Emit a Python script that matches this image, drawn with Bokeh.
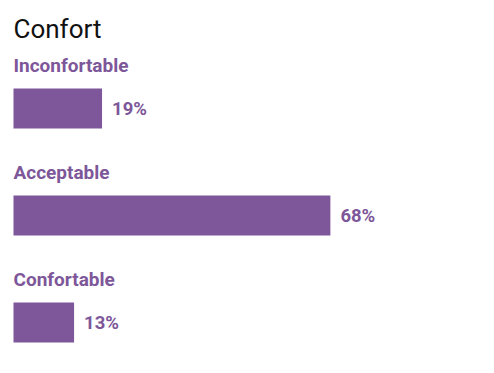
from bokeh.plotting import figure
from bokeh.models import Range1d, ColumnDataSource
from bokeh.core.properties import value
from bokeh.embed import file_html
from bokeh.resources import INLINE

# ---- data ----
title_text = "Confort"
categories = ["Inconfortable", "Acceptable", "Confortable"]
percents = [19, 68, 13]
value_labels = [f"{v}%" for v in percents]

# ---- layout (pixels) ----
W, H = 478, 357
PX_PER_UNIT = 4.66
LEFT_PAD = 13
FIRST_BAR_CENTER = 108
ROW_STEP = 107
BAR_H = 40
LABEL_ABOVE = 43
TITLE_BASELINE = 28

COLOR = "#7D5799"
FONT = "Roboto"

x0 = -LEFT_PAD / PX_PER_UNIT
p = figure(width=W, height=H, output_backend="svg", toolbar_location=None,
           min_border=0, x_range=Range1d(x0, x0 + W / PX_PER_UNIT),
           y_range=Range1d(H, 0))
p.axis.visible = False
p.xgrid.visible = False
p.ygrid.visible = False
p.outline_line_color = None
p.background_fill_color = "white"
p.border_fill_color = "white"

centers = [FIRST_BAR_CENTER + i * ROW_STEP for i in range(len(categories))]
src = ColumnDataSource(dict(
    cat=categories, pct=percents, lab=value_labels, y=centers,
    ylab=[c - LABEL_ABOVE for c in centers], zero=[0] * len(categories),
))

p.hbar(y="y", left=0, right="pct", height=BAR_H, source=src,
       fill_color=COLOR, line_color=None)

p.text(x="zero", y="ylab", text="cat", source=src, text_color=COLOR,
       text_font=value(FONT), text_font_style="bold", text_font_size="19px",
       text_baseline="alphabetic", text_align="left")

p.text(x="pct", y="y", text="lab", source=src, text_color=COLOR,
       text_font=value(FONT), text_font_style="bold", text_font_size="18.5px",
       text_baseline="middle", text_align="left", x_offset=10)

p.text(x=[0], y=[TITLE_BASELINE], text=[title_text], text_color="#111111",
       text_font=value(FONT), text_font_size="26px",
       text_baseline="alphabetic", text_align="left")

open("out.html", "w").write(file_html(p, INLINE))
